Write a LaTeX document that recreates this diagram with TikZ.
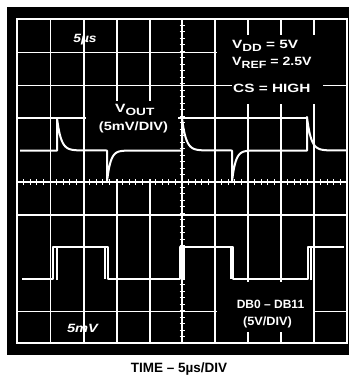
\documentclass[tikz,border=0pt]{standalone}
\usepackage{fontspec}
\setmainfont{Liberation Sans}
\newcommand\lsub[1]{\raisebox{-3pt}{\fontsize{10.5}{12}\selectfont #1}}
\begin{document}
\begin{tikzpicture}[x=1pt,y=-1pt,
  gridline/.style={white,line width=1.6pt},
  trace/.style={white,line width=2pt,line join=round},
  tick/.style={white,line width=1pt},
  lab/.style={text=white,font=\fontsize{12}{14}\selectfont\bfseries,inner sep=0pt},
  labit/.style={text=white,font=\fontsize{12}{14}\selectfont\bfseries\itshape,inner sep=0pt},
  captext/.style={text=black,font=\fontsize{13.5}{15}\selectfont\bfseries,inner sep=0pt},
  blank/.style={fill=black,draw=none}]
\useasboundingbox (0,0) rectangle (349,376);
\fill[white] (0,0) rectangle (349,376);
\fill[black] (7,7) rectangle (349,355);
% vertical grid lines
\foreach \gx in {50.5,84,117,150,182,215,248,281,314}
  \draw[gridline] (\gx,19) -- (\gx,343);
% horizontal grid lines
\foreach \gy in {52.5,85.5,182,215,311.5}
  \draw[gridline] (17,\gy) -- (347,\gy);
\draw[gridline] (17,118) -- (307,118);
% ticks on the centre lines
\foreach \k in {1,...,49}
  \draw[tick] ({17+6.6*\k},179) -- ({17+6.6*\k},185);
\foreach \k in {1,...,49}
  \draw[tick] (179.5,{19+6.48*\k}) -- (184.5,{19+6.48*\k});
% blanked areas behind the labels
\fill[blank] (86,101) rectangle (178,179);
\fill[blank] (217,35) rectangle (346,78);
\fill[blank] (232,78) rectangle (323,104);
\fill[blank] (217,282) rectangle (313,332);
% frame
\draw[white,line width=2pt] (17,19) rectangle (347,343);
% V_OUT trace
\draw[trace] (20,150.5) -- (57,150.5) -- (57,118)
  -- plot[domain=0:20,samples=30] ({57+\x},{150.5-32.5*exp(-\x/4)})
  -- (107,150.5) -- (107,182)
  -- plot[domain=0:18,samples=30] ({107+\x},{150.5+31.5*exp(-\x/3.5)})
  -- (182,150.5) -- (182,118)
  -- plot[domain=0:20,samples=30] ({182+\x},{150.5-32.5*exp(-\x/4)})
  -- (232,150.5) -- (232,182)
  -- plot[domain=0:18,samples=30] ({232+\x},{150.5+31.5*exp(-\x/3.5)})
  -- (307,150.5) -- (307,117)
  -- plot[domain=0:20,samples=30] ({307+\x},{150.5-33.5*exp(-\x/4)})
  -- (347,150.5);
% DB0-DB11 trace
\draw[trace] (22,279) -| (53,247) -| (108,279) -| (180,247) -| (233,279) -| (308,247) -- (344,247);
\draw[trace] (57,280) -- (57,247);
\draw[trace] (105,247) -- (105,279);
\draw[trace] (183.5,280) -- (183.5,247);
\draw[trace] (230.5,247) -- (230.5,279);
\draw[trace] (310.5,280) -- (310.5,247);
% labels
\node[labit,anchor=base] (t5us) at (85,42) {\scalebox{1.15}[1]{5µs}};
\node[labit,anchor=base] (t5mv) at (82.5,332) {\scalebox{1.22}[1]{5mV}};
\node[lab,anchor=base west] (vout) at (115,112) {\scalebox{1.3}[1]{V\lsub{OUT}}};
\node[lab,anchor=base] (vdiv) at (133.5,130) {\scalebox{1.22}[1]{(5mV/DIV)}};
\node[lab,anchor=base west] (vdd) at (232,48) {\scalebox{1.28}[1]{V\lsub{DD} = 5V}};
\node[lab,anchor=base west] (vref) at (232,65) {\scalebox{1.18}[1]{V\lsub{REF} = 2.5V}};
\node[lab,anchor=base west] (cs) at (233,92) {\scalebox{1.28}[1]{CS = HIGH}};
\node[lab,anchor=base] (db) at (270.5,308) {DB0 – DB11};
\node[lab,anchor=base] (ddiv) at (267.5,325) {\scalebox{1.06}[1]{(5V/DIV)}};
\node[captext,anchor=base] (time) at (179,372) {TIME – 5µs/DIV};
\end{tikzpicture}
\end{document}
